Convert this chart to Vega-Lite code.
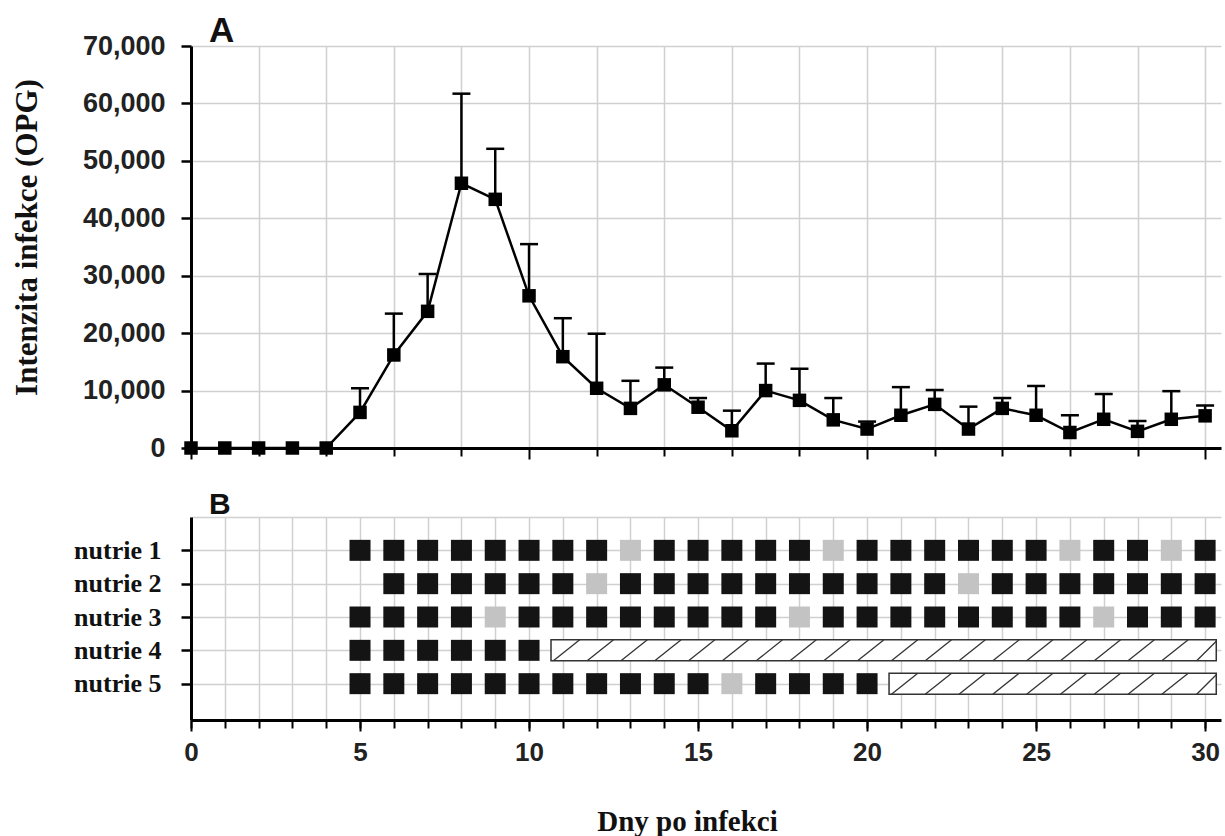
{
  "$schema": "https://vega.github.io/schema/vega-lite/v6.json",
  "background": "white",
  "padding": {"left": 11, "top": 14, "right": 2, "bottom": 2},
  "config": {"view": {"stroke": null}, "concat": {"spacing": 29}, "axis": {"labelOverlap": false, "labelFlush": false}},
  "datasets": {
    "opg": [
      {"day": 0, "mean": 0, "upper": null},
      {"day": 1, "mean": 0, "upper": null},
      {"day": 2, "mean": 0, "upper": null},
      {"day": 3, "mean": 0, "upper": null},
      {"day": 4, "mean": 0, "upper": null},
      {"day": 5, "mean": 6200, "upper": 10400},
      {"day": 6, "mean": 16200, "upper": 23400},
      {"day": 7, "mean": 23800, "upper": 30300},
      {"day": 8, "mean": 46100, "upper": 61700},
      {"day": 9, "mean": 43300, "upper": 52100},
      {"day": 10, "mean": 26500, "upper": 35500},
      {"day": 11, "mean": 15900, "upper": 22600},
      {"day": 12, "mean": 10400, "upper": 19900},
      {"day": 13, "mean": 6900, "upper": 11700},
      {"day": 14, "mean": 11000, "upper": 14000},
      {"day": 15, "mean": 7100, "upper": 8700},
      {"day": 16, "mean": 3000, "upper": 6500},
      {"day": 17, "mean": 10000, "upper": 14700},
      {"day": 18, "mean": 8300, "upper": 13800},
      {"day": 19, "mean": 4900, "upper": 8700},
      {"day": 20, "mean": 3300, "upper": 4600},
      {"day": 21, "mean": 5700, "upper": 10600},
      {"day": 22, "mean": 7600, "upper": 10100},
      {"day": 23, "mean": 3300, "upper": 7200},
      {"day": 24, "mean": 6900, "upper": 8700},
      {"day": 25, "mean": 5700, "upper": 10800},
      {"day": 26, "mean": 2700, "upper": 5700},
      {"day": 27, "mean": 5000, "upper": 9400},
      {"day": 28, "mean": 2900, "upper": 4700},
      {"day": 29, "mean": 5000, "upper": 9900},
      {"day": 30, "mean": 5600, "upper": 7400}
    ],
    "squares": [
      {"nutrie": 1, "day": 5, "result": "pos"}, {"nutrie": 1, "day": 6, "result": "pos"}, {"nutrie": 1, "day": 7, "result": "pos"}, {"nutrie": 1, "day": 8, "result": "pos"}, {"nutrie": 1, "day": 9, "result": "pos"}, {"nutrie": 1, "day": 10, "result": "pos"}, {"nutrie": 1, "day": 11, "result": "pos"}, {"nutrie": 1, "day": 12, "result": "pos"}, {"nutrie": 1, "day": 13, "result": "neg"}, {"nutrie": 1, "day": 14, "result": "pos"}, {"nutrie": 1, "day": 15, "result": "pos"}, {"nutrie": 1, "day": 16, "result": "pos"}, {"nutrie": 1, "day": 17, "result": "pos"}, {"nutrie": 1, "day": 18, "result": "pos"}, {"nutrie": 1, "day": 19, "result": "neg"}, {"nutrie": 1, "day": 20, "result": "pos"}, {"nutrie": 1, "day": 21, "result": "pos"}, {"nutrie": 1, "day": 22, "result": "pos"}, {"nutrie": 1, "day": 23, "result": "pos"}, {"nutrie": 1, "day": 24, "result": "pos"}, {"nutrie": 1, "day": 25, "result": "pos"}, {"nutrie": 1, "day": 26, "result": "neg"}, {"nutrie": 1, "day": 27, "result": "pos"}, {"nutrie": 1, "day": 28, "result": "pos"}, {"nutrie": 1, "day": 29, "result": "neg"}, {"nutrie": 1, "day": 30, "result": "pos"},
      {"nutrie": 2, "day": 6, "result": "pos"}, {"nutrie": 2, "day": 7, "result": "pos"}, {"nutrie": 2, "day": 8, "result": "pos"}, {"nutrie": 2, "day": 9, "result": "pos"}, {"nutrie": 2, "day": 10, "result": "pos"}, {"nutrie": 2, "day": 11, "result": "pos"}, {"nutrie": 2, "day": 12, "result": "neg"}, {"nutrie": 2, "day": 13, "result": "pos"}, {"nutrie": 2, "day": 14, "result": "pos"}, {"nutrie": 2, "day": 15, "result": "pos"}, {"nutrie": 2, "day": 16, "result": "pos"}, {"nutrie": 2, "day": 17, "result": "pos"}, {"nutrie": 2, "day": 18, "result": "pos"}, {"nutrie": 2, "day": 19, "result": "pos"}, {"nutrie": 2, "day": 20, "result": "pos"}, {"nutrie": 2, "day": 21, "result": "pos"}, {"nutrie": 2, "day": 22, "result": "pos"}, {"nutrie": 2, "day": 23, "result": "neg"}, {"nutrie": 2, "day": 24, "result": "pos"}, {"nutrie": 2, "day": 25, "result": "pos"}, {"nutrie": 2, "day": 26, "result": "pos"}, {"nutrie": 2, "day": 27, "result": "pos"}, {"nutrie": 2, "day": 28, "result": "pos"}, {"nutrie": 2, "day": 29, "result": "pos"}, {"nutrie": 2, "day": 30, "result": "pos"},
      {"nutrie": 3, "day": 5, "result": "pos"}, {"nutrie": 3, "day": 6, "result": "pos"}, {"nutrie": 3, "day": 7, "result": "pos"}, {"nutrie": 3, "day": 8, "result": "pos"}, {"nutrie": 3, "day": 9, "result": "neg"}, {"nutrie": 3, "day": 10, "result": "pos"}, {"nutrie": 3, "day": 11, "result": "pos"}, {"nutrie": 3, "day": 12, "result": "pos"}, {"nutrie": 3, "day": 13, "result": "pos"}, {"nutrie": 3, "day": 14, "result": "pos"}, {"nutrie": 3, "day": 15, "result": "pos"}, {"nutrie": 3, "day": 16, "result": "pos"}, {"nutrie": 3, "day": 17, "result": "pos"}, {"nutrie": 3, "day": 18, "result": "neg"}, {"nutrie": 3, "day": 19, "result": "pos"}, {"nutrie": 3, "day": 20, "result": "pos"}, {"nutrie": 3, "day": 21, "result": "pos"}, {"nutrie": 3, "day": 22, "result": "pos"}, {"nutrie": 3, "day": 23, "result": "pos"}, {"nutrie": 3, "day": 24, "result": "pos"}, {"nutrie": 3, "day": 25, "result": "pos"}, {"nutrie": 3, "day": 26, "result": "pos"}, {"nutrie": 3, "day": 27, "result": "neg"}, {"nutrie": 3, "day": 28, "result": "pos"}, {"nutrie": 3, "day": 29, "result": "pos"}, {"nutrie": 3, "day": 30, "result": "pos"},
      {"nutrie": 4, "day": 5, "result": "pos"}, {"nutrie": 4, "day": 6, "result": "pos"}, {"nutrie": 4, "day": 7, "result": "pos"}, {"nutrie": 4, "day": 8, "result": "pos"}, {"nutrie": 4, "day": 9, "result": "pos"}, {"nutrie": 4, "day": 10, "result": "pos"},
      {"nutrie": 5, "day": 5, "result": "pos"}, {"nutrie": 5, "day": 6, "result": "pos"}, {"nutrie": 5, "day": 7, "result": "pos"}, {"nutrie": 5, "day": 8, "result": "pos"}, {"nutrie": 5, "day": 9, "result": "pos"}, {"nutrie": 5, "day": 10, "result": "pos"}, {"nutrie": 5, "day": 11, "result": "pos"}, {"nutrie": 5, "day": 12, "result": "pos"}, {"nutrie": 5, "day": 13, "result": "pos"}, {"nutrie": 5, "day": 14, "result": "pos"}, {"nutrie": 5, "day": 15, "result": "pos"}, {"nutrie": 5, "day": 16, "result": "neg"}, {"nutrie": 5, "day": 17, "result": "pos"}, {"nutrie": 5, "day": 18, "result": "pos"}, {"nutrie": 5, "day": 19, "result": "pos"}, {"nutrie": 5, "day": 20, "result": "pos"}
    ],
    "gaps": [
      {"nutrie": 4, "start": 10.65, "end": 30.33},
      {"nutrie": 5, "start": 20.65, "end": 30.33}
    ],
    "hatch": [
      {"nutrie": 4, "x0": 10.72, "x1": 11.5, "part": "full"}, {"nutrie": 4, "x0": 11.72, "x1": 12.5, "part": "full"}, {"nutrie": 4, "x0": 12.72, "x1": 13.5, "part": "full"}, {"nutrie": 4, "x0": 13.72, "x1": 14.5, "part": "full"}, {"nutrie": 4, "x0": 14.72, "x1": 15.5, "part": "full"}, {"nutrie": 4, "x0": 15.72, "x1": 16.5, "part": "full"}, {"nutrie": 4, "x0": 16.72, "x1": 17.5, "part": "full"}, {"nutrie": 4, "x0": 17.72, "x1": 18.5, "part": "full"}, {"nutrie": 4, "x0": 18.72, "x1": 19.5, "part": "full"}, {"nutrie": 4, "x0": 19.72, "x1": 20.5, "part": "full"}, {"nutrie": 4, "x0": 20.72, "x1": 21.5, "part": "full"}, {"nutrie": 4, "x0": 21.72, "x1": 22.5, "part": "full"}, {"nutrie": 4, "x0": 22.72, "x1": 23.5, "part": "full"}, {"nutrie": 4, "x0": 23.72, "x1": 24.5, "part": "full"}, {"nutrie": 4, "x0": 24.72, "x1": 25.5, "part": "full"}, {"nutrie": 4, "x0": 25.72, "x1": 26.5, "part": "full"}, {"nutrie": 4, "x0": 26.72, "x1": 27.5, "part": "full"}, {"nutrie": 4, "x0": 27.72, "x1": 28.5, "part": "full"}, {"nutrie": 4, "x0": 28.72, "x1": 29.5, "part": "full"}, {"nutrie": 4, "x0": 29.75, "x1": 30.33, "part": "end"},
      {"nutrie": 5, "x0": 20.72, "x1": 21.5, "part": "full"}, {"nutrie": 5, "x0": 21.72, "x1": 22.5, "part": "full"}, {"nutrie": 5, "x0": 22.72, "x1": 23.5, "part": "full"}, {"nutrie": 5, "x0": 23.72, "x1": 24.5, "part": "full"}, {"nutrie": 5, "x0": 24.72, "x1": 25.5, "part": "full"}, {"nutrie": 5, "x0": 25.72, "x1": 26.5, "part": "full"}, {"nutrie": 5, "x0": 26.72, "x1": 27.5, "part": "full"}, {"nutrie": 5, "x0": 27.72, "x1": 28.5, "part": "full"}, {"nutrie": 5, "x0": 28.72, "x1": 29.5, "part": "full"}, {"nutrie": 5, "x0": 29.75, "x1": 30.33, "part": "end"}
    ]
  },
  "vconcat": [
    {
      "width": 1030,
      "height": 402,
      "title": {"text": "A", "anchor": "start", "frame": "group", "dx": 18, "offset": -17, "font": "Liberation Sans", "fontSize": 35, "fontWeight": "bold", "color": "#111111"},
      "data": {"name": "opg"},
      "layer": [
        {
          "mark": {"type": "line", "color": "black", "strokeWidth": 2.5},
          "encoding": {
            "x": {"field": "day", "type": "quantitative", "title": null,
              "scale": {"domain": [0, 30.47], "nice": false, "zero": false},
              "axis": {"values": [0,1,2,3,4,5,6,7,8,9,10,11,12,13,14,15,16,17,18,19,20,21,22,23,24,25,26,27,28,29,30], "labels": false, "ticks": true, "tickSize": {"condition": {"test": "datum.value % 5 === 0", "value": 11}, "value": 8}, "tickWidth": 2, "tickColor": "black", "domainColor": "black", "domainWidth": 3, "grid": true, "gridColor": "#d0d0d0", "gridWidth": 1.5}},
            "y": {"field": "mean", "type": "quantitative", "title": "Intenzita infekce (OPG)",
              "scale": {"domain": [0, 70000], "nice": false},
              "axis": {"values": [0,10000,20000,30000,40000,50000,60000,70000], "labelExpr": "format(datum.value, ',')", "labelFont": "Liberation Sans", "labelFontSize": 27, "labelFontWeight": "bold", "labelColor": "#222222", "labelPadding": 16, "tickSize": 10, "tickWidth": 2.5, "tickColor": "black", "domainColor": "black", "domainWidth": 3, "grid": true, "gridColor": "#d0d0d0", "gridWidth": 1.5, "titleFont": "Liberation Serif", "titleFontSize": 31, "titleFontWeight": "bold", "titleColor": "#111111", "titlePadding": 39, "titleY": 191}}
          }
        },
        {
          "transform": [{"filter": "datum.upper != null"}],
          "mark": {"type": "rule", "color": "black", "strokeWidth": 2.5},
          "encoding": {
            "x": {"field": "day", "type": "quantitative", "title": null},
            "y": {"field": "mean", "type": "quantitative", "title": "Intenzita infekce (OPG)"},
            "y2": {"field": "upper"}
          }
        },
        {
          "transform": [{"filter": "datum.upper != null"}],
          "mark": {"type": "rule", "color": "black", "strokeWidth": 2.5, "xOffset": -9, "x2Offset": 9},
          "encoding": {
            "x": {"field": "day", "type": "quantitative", "title": null},
            "x2": {"field": "day"},
            "y": {"field": "upper", "type": "quantitative", "title": "Intenzita infekce (OPG)"}
          }
        },
        {
          "mark": {"type": "point", "shape": "square", "filled": true, "color": "black", "opacity": 1, "size": 182},
          "encoding": {
            "x": {"field": "day", "type": "quantitative", "title": null},
            "y": {"field": "mean", "type": "quantitative", "title": "Intenzita infekce (OPG)"}
          }
        }
      ]
    },
    {
      "width": 1030,
      "height": 203,
      "title": {"text": "B", "anchor": "start", "frame": "group", "dx": 18, "offset": -16, "font": "Liberation Sans", "fontSize": 30, "fontWeight": "bold", "color": "#111111"},
      "resolve": {"axis": {"x": "independent"}},
      "layer": [
        {
          "data": {"name": "gaps"},
          "mark": {"type": "rect", "fill": "white", "stroke": "#333333", "strokeWidth": 1.5, "yOffset": 10.5, "y2Offset": -10.5},
          "encoding": {
            "x": {"field": "start", "type": "quantitative", "title": null,
              "scale": {"domain": [0, 30.47], "nice": false, "zero": false},
              "axis": {"orient": "bottom", "values": [0,1,2,3,4,5,6,7,8,9,10,11,12,13,14,15,16,17,18,19,20,21,22,23,24,25,26,27,28,29,30], "labels": false, "domain": false, "ticks": true, "tickSize": 8, "tickWidth": 2, "tickColor": "black", "grid": true, "gridColor": "#d0d0d0", "gridWidth": 1.5, "title": null}},
            "x2": {"field": "end"},
            "y": {"field": "nutrie", "type": "quantitative", "title": null,
              "scale": {"domain": [0, 6.09], "nice": false, "zero": false, "reverse": true},
              "axis": {"values": [0,1,2,3,4,5], "labelExpr": "datum.value === 0 ? '' : 'nutrie ' + datum.value", "labelFont": "Liberation Serif", "labelFontSize": 26, "labelFontWeight": "bold", "labelColor": "#111111", "labelPadding": 20, "tickSize": 10, "tickWidth": 2.5, "tickColor": {"condition": {"test": "datum.value === 0", "value": "transparent"}, "value": "black"}, "domainColor": "black", "domainWidth": 3, "grid": true, "gridColor": "#d0d0d0", "gridWidth": 1.5}},
            "y2": {"field": "nutrie"}
          }
        },
        {
          "data": {"name": "squares"},
          "mark": {"type": "point", "shape": "square", "filled": true, "opacity": 1, "size": 441, "strokeWidth": 0},
          "encoding": {
            "x": {"field": "day", "type": "quantitative", "title": "Dny po infekci",
              "axis": {"orient": "bottom", "values": [0,5,10,15,20,25,30], "labelFlush": false, "labelFont": "Liberation Sans", "labelFontSize": 26, "labelFontWeight": "bold", "labelColor": "#222222", "labelPadding": 8, "tickSize": 11, "tickWidth": 2, "tickColor": "black", "domainColor": "black", "domainWidth": 3, "grid": false, "titleFont": "Liberation Serif", "titleFontSize": 29, "titleFontWeight": "bold", "titleColor": "#111111", "titlePadding": 42, "titleX": 496}},
            "y": {"field": "nutrie", "type": "quantitative", "title": null},
            "color": {"field": "result", "type": "nominal", "scale": {"domain": ["pos", "neg"], "range": ["#141414", "#c3c3c3"]}, "legend": null}
          }
        },
        {
          "data": {"name": "hatch"},
          "transform": [{"filter": "datum.part === 'full'"}],
          "mark": {"type": "rule", "color": "#333333", "strokeWidth": 1.3, "yOffset": 10.5, "y2Offset": -10.5},
          "encoding": {
            "x": {"field": "x0", "type": "quantitative", "axis": null},
            "x2": {"field": "x1"},
            "y": {"field": "nutrie", "type": "quantitative", "title": null},
            "y2": {"field": "nutrie"}
          }
        },
        {
          "data": {"name": "hatch"},
          "transform": [{"filter": "datum.part === 'end'"}],
          "mark": {"type": "rule", "color": "#333333", "strokeWidth": 1.3, "yOffset": 10.5, "y2Offset": -9},
          "encoding": {
            "x": {"field": "x0", "type": "quantitative", "axis": null},
            "x2": {"field": "x1"},
            "y": {"field": "nutrie", "type": "quantitative", "title": null},
            "y2": {"field": "nutrie"}
          }
        }
      ]
    }
  ]
}
